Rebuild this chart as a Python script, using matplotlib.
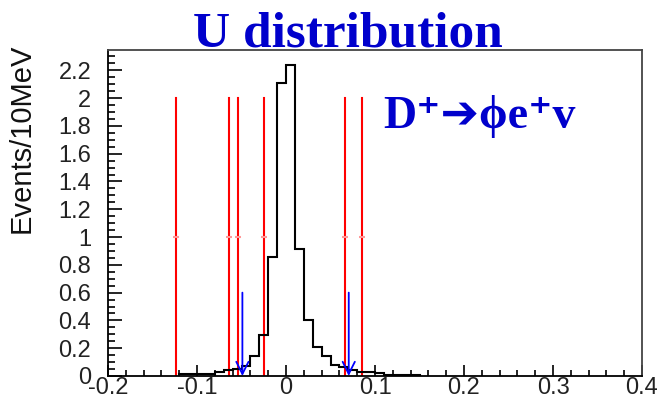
import numpy as np
import matplotlib
matplotlib.use("Agg")
import matplotlib.pyplot as plt
from matplotlib.ticker import MultipleLocator

# histogram, 10 MeV bins
edges = np.round(np.arange(-0.12, 0.1501, 0.01), 3)
counts = [0.012, 0.012, 0.012, 0.012, 0.031, 0.043, 0.048, 0.072, 0.142, 0.295,
          0.854, 2.106, 2.237, 0.911, 0.403, 0.208, 0.142, 0.079, 0.067, 0.040,
          0.031, 0.031, 0.019, 0.008, 0.008, 0.008, 0.008]

# red cut lines (drawn up to 2, marker at 1)
red_x = [-0.1236, -0.064, -0.054, -0.0245, 0.066, 0.0857]
red_top = 2.0
red_mid = 1.0

# blue arrows
arrow_x = [-0.049, 0.0705]
arrow_top = 0.6

xticks = [-0.2, -0.1, 0, 0.1, 0.2, 0.3, 0.4]
xticklabels = ["-0.2", "-0.1", "0", "0.1", "0.2", "0.3", "0.4"]
yticks = [0, 0.2, 0.4, 0.6, 0.8, 1.0, 1.2, 1.4, 1.6, 1.8, 2.0, 2.2]
yticklabels = ["0", "0.2", "0.4", "0.6", "0.8", "1", "1.2", "1.4", "1.6", "1.8", "2", "2.2"]

W, H = 657, 407
fig = plt.figure(figsize=(W / 100, H / 100), dpi=100)
ax = fig.add_axes([108 / W, 1 - 376 / H, 534 / W, 326 / H])

for x in red_x:
    ax.plot([x, x], [0, red_top], color="#ff0000", lw=1.5, zorder=2)
    ax.plot(x, red_mid, marker="_", ms=5, mew=1.5, color="#ff9999", zorder=3)

ax.stairs(counts, edges, color="black", lw=1.5, zorder=4)

for x in arrow_x:
    ax.annotate("", xy=(x, 0), xytext=(x, arrow_top),
                arrowprops=dict(arrowstyle="->", color="#0000ff", lw=1.3,
                                mutation_scale=22, shrinkA=0, shrinkB=0),
                zorder=5)

ax.set_xlim(-0.2, 0.4)
ax.set_ylim(0, 2.346)
ax.set_xticks(xticks)
ax.set_xticklabels(xticklabels)
ax.set_yticks(yticks)
ax.set_yticklabels(yticklabels)
ax.xaxis.set_minor_locator(MultipleLocator(0.02))
ax.yaxis.set_minor_locator(MultipleLocator(0.05))

for lab in ax.get_xticklabels() + ax.get_yticklabels():
    lab.set_fontfamily("Liberation Sans")
    lab.set_fontsize(17)
    lab.set_color("#222222")

ax.tick_params(axis="x", which="major", direction="in", length=8, width=1.2, pad=1)
ax.tick_params(axis="x", which="minor", direction="in", length=4, width=1.2)
ax.tick_params(axis="y", which="major", direction="in", length=10, width=1.2, pad=12)
ax.tick_params(axis="y", which="minor", direction="in", length=5, width=1.2)
ax.tick_params(top=False, right=False, which="both")
for side in ["top", "right"]:
    ax.spines[side].set_color("#444444")
for side in ax.spines:
    ax.spines[side].set_linewidth(1.3)

fig.text(22 / W, 1 - 138 / H, "Events/10MeV", rotation=90, ha="center", va="center",
         family="Liberation Sans", fontsize=21, color="#111111")

fig.text(348 / W, 1 - 46.7 / H, "U distribution", ha="center", va="baseline",
         family="Liberation Serif", fontweight="bold", fontsize=37, color="#0000cc")

ax.text((383 - 108) / 534, (376 - 127.7) / 326, "D\u207a\u2794\u03d5e\u207av",
        transform=ax.transAxes, ha="left", va="baseline",
        family=["Liberation Serif", "DejaVu Sans"], fontweight="bold", fontsize=33,
        color="#0000cc")

fig.savefig("out.png", dpi=100)
